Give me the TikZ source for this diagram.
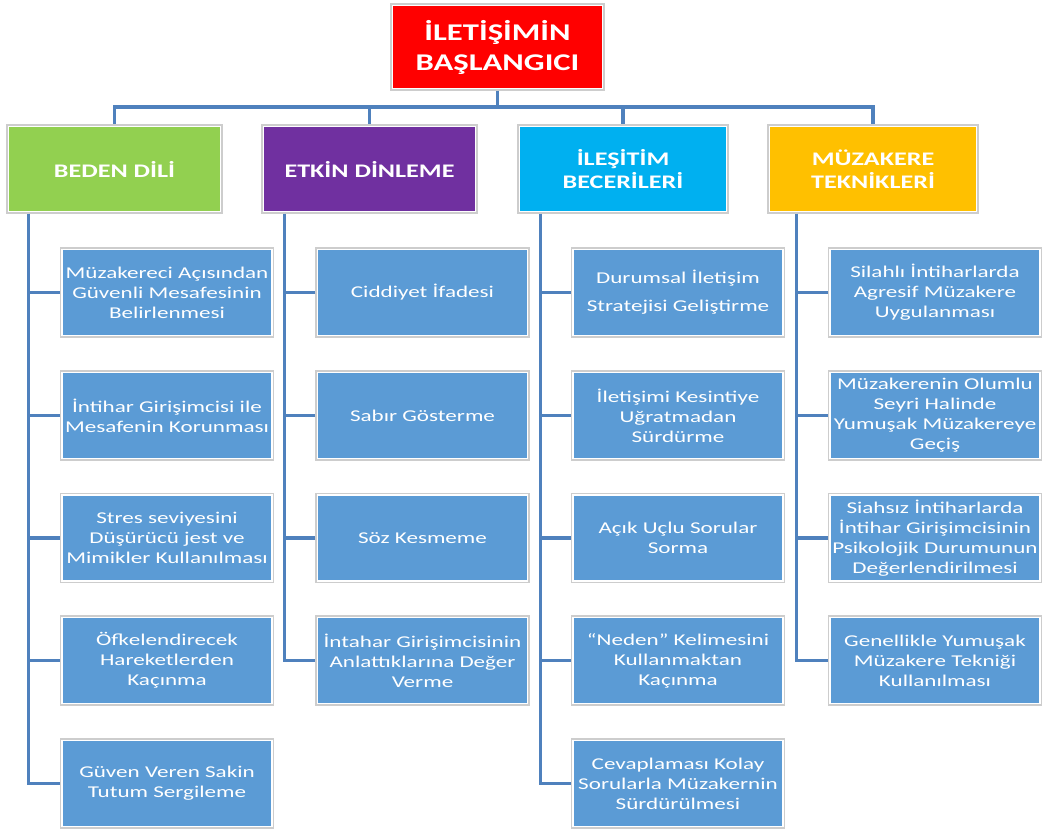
\documentclass[tikz,border=0pt]{standalone}
\usepackage{fontspec}
\setmainfont{Carlito}[FakeStretch=1.40]
\newfontfamily\hdfont{Carlito}[FakeStretch=1.36]
\definecolor{rootred}{HTML}{FF0000}
\definecolor{hgreen}{HTML}{92D050}
\definecolor{hpurple}{HTML}{7030A0}
\definecolor{hcyan}{HTML}{00B0F0}
\definecolor{hgold}{HTML}{FFC000}
\definecolor{cblue}{HTML}{5B9BD5}
\definecolor{connc}{HTML}{4F81BD}
\definecolor{bordc}{HTML}{CDCDCD}
\tikzset{
  box/.style={rectangle, draw=bordc, line width=1.2pt, fill=white, inner sep=0pt,
    minimum width=213pt, minimum height=89pt,
    path picture={\fill[#1] ([shift={(2.4pt,2.4pt)}]path picture bounding box.south west) rectangle ([shift={(-2.4pt,-2.4pt)}]path picture bounding box.north east);}},
  ctxt/.style={text=white, align=center, inner sep=0pt, font=\fontsize{16.5}{20}\selectfont},
  htxt/.style={text=white, align=center, inner sep=0pt, font=\hdfont\bfseries\fontsize{19.2}{23}\selectfont},
  rtxt/.style={text=white, align=center, inner sep=0pt, font=\hdfont\bfseries\fontsize{24}{30}\selectfont},
  conn/.style={draw=connc, line width=3.5pt},
}
\newcommand{\cbox}[4]{\node[box=cblue] (#1) at (#2,#3) {}; \node[ctxt] (#1t) at (#1.center) {#4};}
\begin{document}
\begin{tikzpicture}[x=1pt,y=-1pt]
\useasboundingbox (0,0) rectangle (1044,831);
\coordinate (bus) at (497.5,107);
% root
\node[box=rootred, minimum height=86pt] (root) at (497.5,47) {};
\node[rtxt] (roott) at (root.center) {İLETİŞİMİN\\BAŞLANGICI};
% headers
\node[box=hgreen, minimum width=215pt, minimum height=88pt] (h1) at (114.5,169) {};
\node[htxt] (h1t) at (h1.center) {BEDEN DİLİ};
\node[box=hpurple, minimum width=215pt, minimum height=88pt] (h2) at (369.5,169) {};
\node[htxt] (h2t) at (h2.center) {ETKİN DİNLEME};
\node[box=hcyan, minimum width=210pt, minimum height=88pt] (h3) at (623,169) {};
\node[htxt] (h3t) at (h3.center) {İLEŞİTİM\\BECERİLERİ};
\node[box=hgold, minimum width=210pt, minimum height=88pt] (h4) at (873,169) {};
\node[htxt] (h4t) at (h4.center) {MÜZAKERE\\TEKNİKLERİ};
% column 1
\cbox{a1}{167}{292.5}{Müzakereci Açısından\\Güvenli Mesafesinin\\Belirlenmesi}
\cbox{a2}{167}{415.5}{İntihar Girişimcisi ile\\Mesafenin Korunması}
\cbox{a3}{167}{538}{Stres seviyesini\\Düşürücü jest ve\\Mimikler Kullanılması}
\cbox{a4}{167}{660.5}{Öfkelendirecek\\Hareketlerden\\Kaçınma}
\cbox{a5}{167}{783.5}{Güven Veren Sakin\\Tutum Sergileme}
% column 2
\cbox{b1}{422.5}{292.5}{Ciddiyet İfadesi}
\cbox{b2}{422.5}{415.5}{Sabır Gösterme}
\cbox{b3}{422.5}{538}{Söz Kesmeme}
\cbox{b4}{422.5}{660.5}{İntahar Girişimcisinin\\Anlattıklarına Değer\\Verme}
% column 3
\cbox{c1}{678}{292.5}{Durumsal İletişim\\[8pt] Stratejisi Geliştirme}
\cbox{c2}{678}{415.5}{İletişimi Kesintiye\\Uğratmadan\\Sürdürme}
\cbox{c3}{678}{538}{Açık Uçlu Sorular\\Sorma}
\cbox{c4}{678}{660.5}{“Neden” Kelimesini\\Kullanmaktan\\Kaçınma}
\cbox{c5}{678}{783.5}{Cevaplaması Kolay\\Sorularla Müzakernin\\Sürdürülmesi}
% column 4
\cbox{d1}{935}{292.5}{Silahlı İntiharlarda\\Agresif Müzakere\\Uygulanması}
\cbox{d2}{935}{415.5}{Müzakerenin Olumlu\\Seyri Halinde\\Yumuşak Müzakereye\\Geçiş}
\cbox{d3}{935}{538}{Siahsız İntiharlarda\\İntihar Girişimcisinin\\Psikolojik Durumunun\\Değerlendirilmesi}
\cbox{d4}{935}{660.5}{Genellikle Yumuşak\\Müzakere Tekniği\\Kullanılması}
% spines
\coordinate (s1) at ([xshift=22pt]h1.south west);
\coordinate (s2) at ([xshift=23pt]h2.south west);
\coordinate (s3) at ([xshift=23pt]h3.south west);
\coordinate (s4) at ([xshift=29pt]h4.south west);
\draw[conn] (root.south) -- (bus);
\draw[conn] (bus) -| (h1.north);
\draw[conn] (bus) -| (h2.north);
\draw[conn] (bus) -| (h3.north);
\draw[conn] (bus) -| (h4.north);
\draw[conn] (s1) |- (a5.west);
\foreach \n in {a1,a2,a3,a4} {\draw[conn] (\n.west) -| (s1);}
\draw[conn] (s2) |- (b4.west);
\foreach \n in {b1,b2,b3} {\draw[conn] (\n.west) -| (s2);}
\draw[conn] (s3) |- (c5.west);
\foreach \n in {c1,c2,c3,c4} {\draw[conn] (\n.west) -| (s3);}
\draw[conn] (s4) |- (d4.west);
\foreach \n in {d1,d2,d3} {\draw[conn] (\n.west) -| (s4);}
\end{tikzpicture}
\end{document}
